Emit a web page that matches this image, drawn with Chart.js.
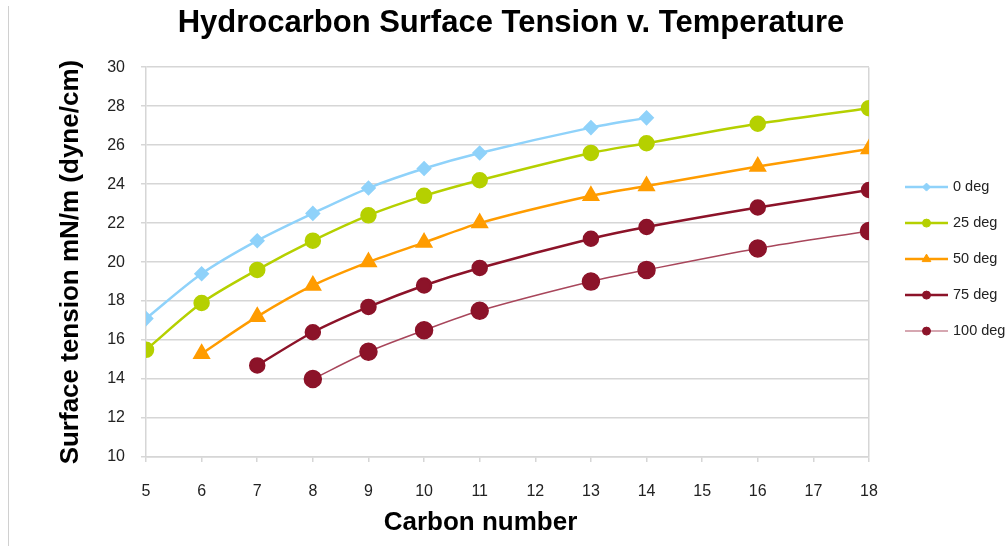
<!DOCTYPE html>
<html>
<head>
<meta charset="utf-8">
<title>Hydrocarbon Surface Tension v. Temperature</title>
<script src="https://cdn.jsdelivr.net/npm/chart.js@4.4.1/dist/chart.umd.min.js"></script>
<style>
    html, body { margin: 0; padding: 0; background: #fff; }
    #wrap  { position: relative; width: 1008px; height: 546px; }
    #frame { position: absolute; left: 8px; top: 6px; bottom: 0; border-left: 1px solid #d0d0d0; }
</style>
</head>
<body>
<div id="wrap">
    <div id="frame"></div>
    <canvas id="tensionChart" width="1008" height="546"></canvas>
</div>
<script>
// ── Data ─────────────────────────────────────
const carbon0   = [5, 6, 7, 8, 9, 10, 11, 13, 14];
const tension0  = [17.1, 19.4, 21.1, 22.5, 23.8, 24.8, 25.6, 26.9, 27.4];

const carbon25  = [5, 6, 7, 8, 9, 10, 11, 13, 14, 16, 18];
const tension25 = [15.5, 17.9, 19.6, 21.1, 22.4, 23.4, 24.2, 25.6, 26.1, 27.1, 27.9];

const carbon50  = [6, 7, 8, 9, 10, 11, 13, 14, 16, 18];
const tension50 = [15.3, 17.2, 18.8, 20.0, 21.0, 22.0, 23.4, 23.9, 24.9, 25.8];

const carbon75  = [7, 8, 9, 10, 11, 13, 14, 16, 18];
const tension75 = [14.7, 16.4, 17.7, 18.8, 19.7, 21.2, 21.8, 22.8, 23.7];

const carbon100  = [8, 9, 10, 11, 13, 14, 16, 18];
const tension100 = [14.0, 15.4, 16.5, 17.5, 19.0, 19.6, 20.7, 21.6];

const xTicks = { min: 5, max: 18, step: 1 };
const yTicks = { min: 10, max: 30, step: 2 };

const FONT      = "'Liberation Sans', Arial, Helvetica, sans-serif";
const GRID      = '#d6d6d6';
const LEGEND_W  = 139;
const X_TITLE   = 'Carbon number';

const pairs = (xs, ys) => xs.map((x, i) => ({ x, y: ys[i] }));

// ── Right-hand legend: line + marker per series ──
function drawLegend(chart, box) {
    const ctx  = chart.ctx;
    const sets = chart.data.datasets;
    const midY = (chart.chartArea.top + chart.chartArea.bottom) / 2 - 3;
    ctx.save();
    sets.forEach((ds, i) => {
        const y  = midY + (i - (sets.length - 1) / 2) * 36;
        const x0 = box.left + 36;
        const x1 = box.left + 79;
        ctx.strokeStyle = ds.legendLine || ds.borderColor;
        ctx.lineWidth   = ds.borderWidth;
        ctx.beginPath();
        ctx.moveTo(x0, y);
        ctx.lineTo(x1, y);
        ctx.stroke();

        ctx.fillStyle   = ds.pointBackgroundColor;
        ctx.strokeStyle = ds.pointBackgroundColor;
        ctx.lineWidth   = 1;
        Chart.helpers.drawPoint(ctx, {
            pointStyle: ds.pointStyle, radius: ds.pointStyle === 'triangle' ? 5 : 4,
            borderWidth: 1, rotation: 0
        }, (x0 + x1) / 2, y);

        ctx.fillStyle    = '#222';
        ctx.font         = '14.5px ' + FONT;
        ctx.textBaseline = 'middle';
        ctx.textAlign    = 'left';
        ctx.fillText(ds.label, box.left + 84, y);
    });
    ctx.restore();
}

const sideLegend = {
    id: 'sideLegend',
    start(chart) {
        const box = {
            position: 'right', weight: 10, fullSize: false, options: {},
            left: 0, top: 0, right: 0, bottom: 0, width: 0, height: 0,
            isHorizontal: () => false,
            update(maxW, maxH) { box.width = LEGEND_W; box.height = maxH; },
            draw() { drawLegend(chart, box); }
        };
        Chart.layouts.addBox(chart, box);
    }
};

// x-axis title sits a little left of the plot centre in the original
const xTitle = {
    id: 'xTitle',
    afterDraw(chart) {
        const { ctx, chartArea, height } = chart;
        ctx.save();
        ctx.fillStyle    = '#000';
        ctx.font         = 'bold 26px ' + FONT;
        ctx.textAlign    = 'center';
        ctx.textBaseline = 'middle';
        ctx.fillText(X_TITLE, (chartArea.left + chartArea.right) / 2 - 27, height - 23);
        ctx.restore();
    }
};

// ── Chart ────────────────────────────────────
new Chart(document.getElementById('tensionChart'), {
    type: 'line',
    data: {
        datasets: [
            {
                label: '0 deg',
                data: pairs(carbon0, tension0),
                borderColor: '#8fd2fa',
                pointBackgroundColor: '#8fd2fa',
                pointBorderColor: '#8fd2fa',
                pointStyle: 'rectRot',
                pointRadius: 6,
                borderWidth: 2.5,
            },
            {
                label: '25 deg',
                data: pairs(carbon25, tension25),
                borderColor: '#b5d000',
                pointBackgroundColor: '#b5d000',
                pointBorderColor: '#b5d000',
                pointStyle: 'circle',
                pointRadius: 7,
                borderWidth: 2.5,
            },
            {
                label: '50 deg',
                data: pairs(carbon50, tension50),
                borderColor: '#ff9c00',
                pointBackgroundColor: '#ff9c00',
                pointBorderColor: '#ff9c00',
                pointStyle: 'triangle',
                pointRadius: 8,
                borderWidth: 2.5,
            },
            {
                label: '75 deg',
                data: pairs(carbon75, tension75),
                borderColor: '#8c1329',
                pointBackgroundColor: '#8c1329',
                pointBorderColor: '#8c1329',
                pointStyle: 'circle',
                pointRadius: 7,
                borderWidth: 2.5,
            },
            {
                label: '100 deg',
                data: pairs(carbon100, tension100),
                borderColor: '#a8465b',
                legendLine: '#c98a97',
                pointBackgroundColor: '#8c1329',
                pointBorderColor: '#8c1329',
                pointStyle: 'circle',
                pointRadius: 8.5,
                borderWidth: 1.5,
            }
        ]
    },
    options: {
        responsive: false,
        animation: false,
        devicePixelRatio: 1,
        layout: { padding: { left: 14, right: 0, top: 0, bottom: 0 } },
        elements: { line: { tension: 0.3, fill: false } },
        plugins: {
            legend: { display: false },
            tooltip: { enabled: false },
            title: {
                display: true,
                text: 'Hydrocarbon Surface Tension v. Temperature',
                color: '#000',
                font: { family: FONT, size: 31, weight: 'bold' },
                padding: { top: 5, bottom: 25 }
            }
        },
        scales: {
            x: {
                type: 'linear',
                min: xTicks.min,
                max: xTicks.max,
                ticks: { stepSize: xTicks.step, color: '#222', padding: 20, font: { family: FONT, size: 16 } },
                grid: {
                    color: (c) => (c.tick && c.tick.value === xTicks.max ? GRID : 'rgba(0,0,0,0)'),
                    tickColor: GRID,
                    lineWidth: 1.5,
                    tickLength: 5
                },
                border: { color: GRID, width: 1.5 },
                title: { display: false },
                afterFit: (s) => { s.height = 89; }
            },
            y: {
                min: yTicks.min,
                max: yTicks.max,
                ticks: { stepSize: yTicks.step, color: '#222', padding: 16, font: { family: FONT, size: 16 } },
                grid: { color: GRID, lineWidth: 1.5, tickLength: 5 },
                border: { color: GRID, width: 1.5 },
                title: {
                    display: true,
                    text: 'Surface tension mN/m (dyne/cm)',
                    color: '#000',
                    font: { family: FONT, size: 26, weight: 'bold' },
                    padding: { top: 41, bottom: 0 }
                },
                afterFit: (s) => { s.width = 132; }
            }
        }
    },
    plugins: [sideLegend, xTitle]
});
</script>
</body>
</html>
